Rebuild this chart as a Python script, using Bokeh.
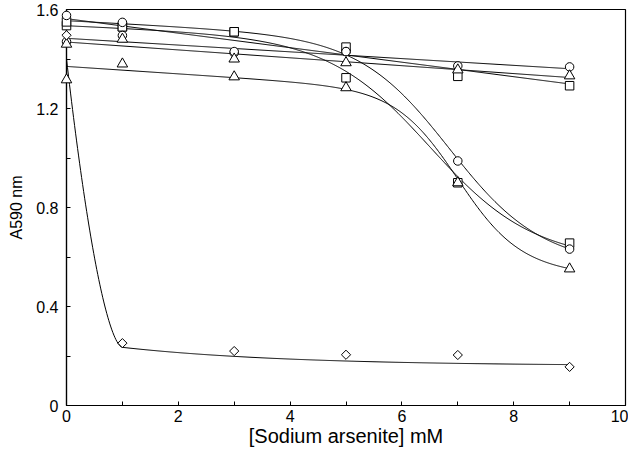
import numpy as np
from bokeh.plotting import figure
from bokeh.models import Range1d, FixedTicker, CustomJSTickFormatter
from bokeh.embed import file_html
from bokeh.resources import INLINE

# ---- data ----
conc = [0, 1, 3, 5, 7, 9]
flat_circle = [1.47, 1.495, 1.425, 1.43, 1.372, 1.368]
flat_triangle = [1.46, 1.48, 1.40, 1.385, 1.356, 1.332]
flat_square = [1.535, 1.53, 1.51, 1.448, 1.33, 1.292]
decl_circle = [1.576, 1.548, 1.43, 1.43, 0.988, 0.632]
decl_square = [1.55, 1.53, 1.51, 1.324, 0.90, 0.656]
decl_triangle = [1.316, 1.38, 1.328, 1.284, 0.90, 0.552]
diamond = [1.496, 0.252, 0.22, 0.205, 0.204, 0.156]

# fitted-curve parameters (baseline a + m*x minus a logistic drop D at c, width w)
decl_circle_fit = [1.555, -0.012, 0.87, 6.85, 0.8]
decl_square_fit = [1.535, -0.010, 0.85, 6.5, 0.9]
decl_triangle_fit = [1.37, -0.015, 0.70, 7.0, 0.55]
# diamond fit: start y0, value y1 at knee x=1, power p, tail floor, tail decay tau
diamond_fit = [1.40, 0.235, 1.68, 0.16, 3.0]

x_ticks = [0, 2, 4, 6, 8, 10]
x_minor = [1, 3, 5, 7, 9]
y_ticks = [0, 0.4, 0.8, 1.2, 1.6]
y_minor = [0.2, 0.6, 1.0, 1.4]

FONT = "Liberation Sans"

p = figure(width=628, height=449, output_backend="svg", toolbar_location=None,
           x_range=Range1d(0, 10), y_range=Range1d(0, 1.6),
           min_border_left=66, min_border_right=3, min_border_top=9, min_border_bottom=10)
p.xgrid.visible = False
p.ygrid.visible = False
p.outline_line_color = "black"
p.outline_line_width = 1.2
p.background_fill_color = "white"

xs = np.linspace(0, 9, 500)

def logistic_curve(prm):
    a, m, D, c, w = prm
    return a + m * xs - D / (1 + np.exp(-(xs - c) / w))

def knee_curve(prm):
    y0, y1, pw, floor, tau = prm
    head = y1 + (y0 - y1) * np.clip(1 - xs, 0, None) ** pw
    tail = floor + (y1 - floor) * np.exp(-(xs - 1) / tau)
    return np.where(xs <= 1, head, tail)

lw = 1.0
for ys in (flat_circle, flat_triangle, flat_square):
    slope, icpt = np.polyfit(conc, ys, 1)
    p.line(xs, icpt + slope * xs, line_color="black", line_width=lw)
for prm in (decl_circle_fit, decl_square_fit, decl_triangle_fit):
    p.line(xs, logistic_curve(prm), line_color="black", line_width=lw)
p.line(xs, knee_curve(diamond_fit), line_color="black", line_width=lw)

mk = dict(line_color="black", fill_color="white", line_width=1.0, level="overlay")
p.scatter(conc, flat_square, marker="square", size=8.5, **mk)
p.scatter(conc, decl_square, marker="square", size=8.5, **mk)
p.scatter(conc, flat_circle, marker="circle", size=8.5, **mk)
p.scatter(conc, decl_circle, marker="circle", size=8.5, **mk)
p.scatter(conc, flat_triangle, marker="triangle", size=10.5, **mk)
p.scatter(conc, decl_triangle, marker="triangle", size=10.5, **mk)
p.scatter(conc, diamond, marker="square", angle=np.pi / 4, size=6.5, **mk)

for ax in (p.xaxis[0], p.yaxis[0]):
    ax.axis_line_color = "black"
    ax.axis_line_width = 1.2
    ax.major_tick_in = 4
    ax.major_tick_out = 0
    ax.minor_tick_in = 4
    ax.minor_tick_out = 0
    ax.major_tick_line_color = "black"
    ax.minor_tick_line_color = "black"
    ax.major_label_text_font = FONT
    ax.major_label_text_font_size = "16px"
    ax.major_label_text_color = "black"
    ax.axis_label_text_font = FONT
    ax.axis_label_text_font_style = "normal"
    ax.axis_label_text_color = "black"

p.xaxis.ticker = FixedTicker(ticks=x_ticks, minor_ticks=x_minor)
p.yaxis.ticker = FixedTicker(ticks=y_ticks, minor_ticks=y_minor)
p.yaxis.formatter = CustomJSTickFormatter(code="return tick.toFixed(1).replace(/\\.0$/, '');")
p.xaxis.formatter = CustomJSTickFormatter(code="return tick.toFixed(0);")

p.xaxis.axis_label = "[Sodium arsenite] mM"
p.xaxis.axis_label_text_font_size = "20px"
p.xaxis.major_label_standoff = 4
p.xaxis.axis_label_standoff = 0

p.yaxis.axis_label = "A590 nm"
p.yaxis.axis_label_text_font_size = "16px"
p.yaxis.major_label_standoff = 8
p.yaxis.axis_label_standoff = 8

open("out.html", "w").write(file_html(p, INLINE))
